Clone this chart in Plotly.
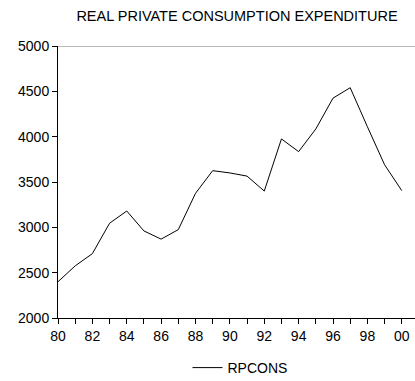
import plotly.graph_objects as go

# Real private consumption expenditure, annual, 1980-2000
years = list(range(1980, 2001))
rpcons = [2400, 2575, 2710, 3045, 3180, 2960, 2870, 2975, 3375, 3625,
          3600, 3565, 3400, 3975, 3835, 4085, 4425, 4540, 4110, 3690, 3405]

tick_vals = years
tick_text = [f"{y % 100:02d}" if y % 2 == 0 else "" for y in years]
y_ticks = [2000, 2500, 3000, 3500, 4000, 4500, 5000]

font_family = "Liberation Sans, Arial, sans-serif"

fig = go.Figure()
fig.add_trace(go.Scatter(
    x=years, y=rpcons, mode="lines", name="RPCONS",
    line=dict(color="black", width=1),
))

fig.update_layout(
    width=415, height=381,
    margin=dict(l=58, r=0, t=46, b=63),
    paper_bgcolor="white", plot_bgcolor="white",
    font=dict(family=font_family, size=14, color="black"),
    title=dict(
        text="REAL PRIVATE CONSUMPTION EXPENDITURE",
        x=237 / 415, xanchor="center", xref="container",
        y=1 - 16 / 381, yanchor="middle", yref="container",
        font=dict(size=14.5, family=font_family, color="black"),
    ),
    showlegend=True,
    legend=dict(
        orientation="h", xref="container", yref="container",
        x=240 / 415, xanchor="center", y=1 - 368 / 381, yanchor="middle",
        font=dict(size=14, family=font_family),
        bgcolor="rgba(0,0,0,0)",
    ),
    xaxis=dict(
        range=[1980, 2000.77],
        tickmode="array", tickvals=tick_vals, ticktext=tick_text,
        ticks="outside", ticklen=5, tickwidth=1, tickcolor="black",
        showline=True, linecolor="black", linewidth=1,
        showgrid=False, zeroline=False,
        tickfont=dict(size=14),
    ),
    yaxis=dict(
        range=[2000, 5000],
        tickmode="array", tickvals=y_ticks,
        ticks="outside", ticklen=5, tickwidth=1, tickcolor="black",
        showline=True, linecolor="black", linewidth=1,
        showgrid=False, zeroline=False,
        tickfont=dict(size=14),
    ),
    shapes=[dict(
        type="line", xref="paper", yref="y", x0=0, x1=1, y0=5000, y1=5000,
        line=dict(color="#777777", width=1),
    )],
)

fig.write_html("out.html")
